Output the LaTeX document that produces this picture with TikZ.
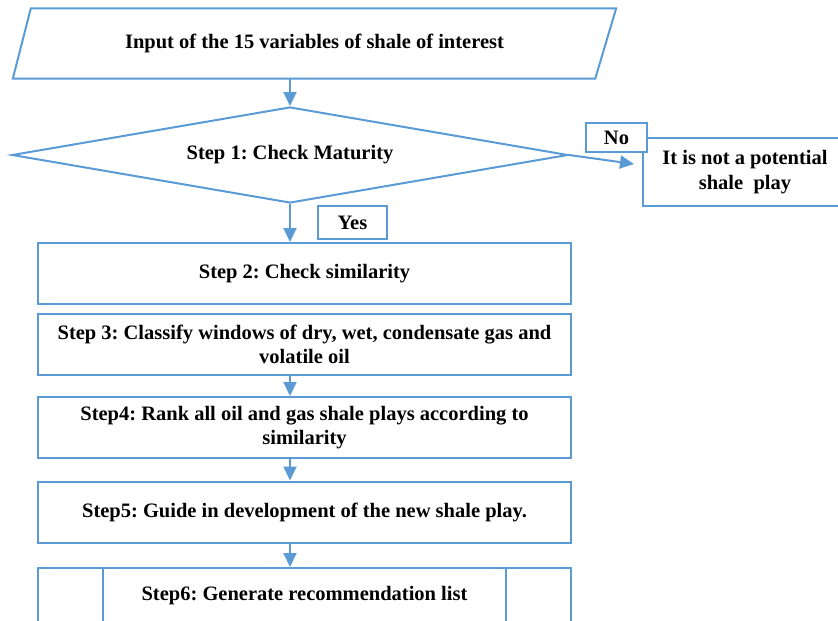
\documentclass[tikz,border=0pt]{standalone}
\usepackage{fontspec}
\setmainfont{Liberation Serif}
\usetikzlibrary{shapes.geometric,arrows.meta}
\definecolor{flowblue}{RGB}{91,155,213}

\begin{document}
\frenchspacing
\begin{tikzpicture}[x=1pt,y=-1pt,
		font=\fontsize{20.5}{24.6}\selectfont\bfseries,
		box/.style={draw=flowblue,line width=2pt,fill=white,align=center,inner sep=0pt},
		stepbox/.style={box,minimum width=533pt,minimum height=61pt},
		arr/.style={draw=flowblue,line width=2pt,-{Triangle[width=13pt,length=14pt]}}]
		\clip (0,0) rectangle (838,621);
		\coordinate (ax) at (290,0);
		% input parallelogram and maturity check
		\node[minimum width=603pt,minimum height=70pt,inner sep=0pt] (in) at (314.5,43.5) {Input of the 15 variables of shale of interest};
		\draw[flowblue,line width=2pt,line join=miter] (in.south west) -- ([xshift=18pt]in.north west) -- (in.north east) -- ([xshift=-21pt]in.south east) -- cycle;
		\node[box,diamond,aspect=5.8,minimum width=556pt,minimum height=96pt] (chk) at (290,155) {Step 1: Check Maturity};
		\node[box,minimum width=204pt,minimum height=68pt] (nb) at (745,172) {It is not a potential\\ shale\ \ play};
		\node[box,minimum width=61pt,minimum height=29pt] (no) at (616.5,137.5) {No};
		\node[box,minimum width=69pt,minimum height=33pt] (yes) at (352.5,222.5) {Yes};
		% steps
		\node[stepbox] (s2) at (304.5,273.5) {Step 2: Check similarity};
		\node[stepbox] (s3) at (304.5,344.5) {Step 3: Classify windows of dry, wet, condensate gas and\\ volatile oil};
		\node[stepbox] (s4) at (304.5,427.5) {Step4: Rank all oil and gas shale plays according to\\ similarity};
		\node[stepbox] (s5) at (304.5,512) {Step5: Guide in development of the new shale play.};
		\node[stepbox,anchor=north,minimum height=0pt,text height=32pt,text depth=60pt] (s6) at (304.5,567) {Step6: Generate recommendation list};
		\draw[flowblue,line width=2pt] ([xshift=66pt]s6.north west) -- ([xshift=66pt]s6.south west);
		\draw[flowblue,line width=2pt] ([xshift=-66pt]s6.north east) -- ([xshift=-66pt]s6.south east);
		% connectors
		\draw[arr] (in.south -| ax) -- (chk.north);
		\draw[arr] (chk.east) -- ([xshift=-8pt,yshift=8pt]nb.west);
		\draw[arr] (chk.south) -- (s2.north -| ax);
		\draw[arr] (s3.south -| ax) -- (s4.north -| ax);
		\draw[arr] (s4.south -| ax) -- (s5.north -| ax);
		\draw[arr] (s5.south -| ax) -- (s6.north -| ax);
\end{tikzpicture}
\end{document}
